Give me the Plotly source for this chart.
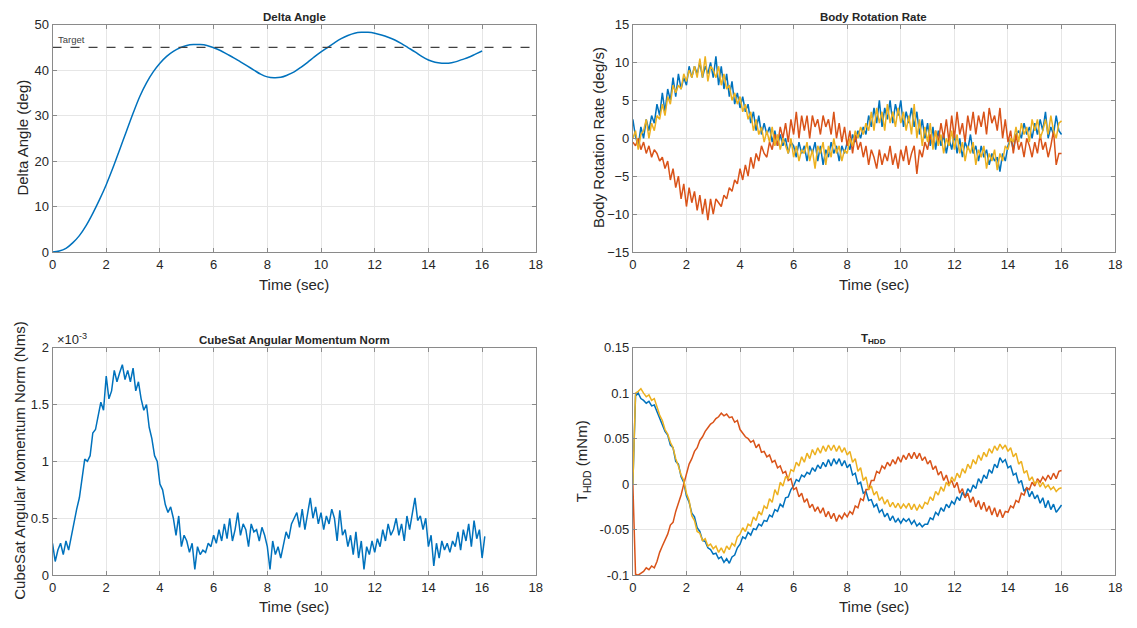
import plotly.graph_objects as go

# ---------------- data ----------------
t_angle = [round(i * 0.25, 2) for i in range(65)]
delta_angle = [0, 0.2, 0.8, 2.0, 3.6, 5.8, 8.5, 11.5, 14.8, 18.5, 22.5, 26.5, 30.5, 34.2, 37.2, 39.6,
               41.5, 43.0, 44.1, 44.9, 45.4, 45.6, 45.6, 45.4, 44.9, 44.3, 43.5, 42.7, 41.8, 40.9,
               40.0, 39.1, 38.5, 38.3, 38.4, 38.9, 39.6, 40.6, 41.7, 42.9, 44.0, 45.0, 46.0, 46.9,
               47.6, 48.1, 48.3, 48.3, 48.1, 47.7, 47.2, 46.6, 45.8, 44.9, 44.0, 43.0, 42.2, 41.7,
               41.5, 41.5, 41.8, 42.3, 42.8, 43.5, 44.2]
target_value = 45

t_rate = [round(i * 0.1, 1) for i in range(161)]
rate_blue = [
    2.5, 0.2, -1.0, 1.5, 0.0, 2.5, 1.0, 3.0, 2.0, 4.5,
    3.0, 6.0, 3.5, 6.5, 5.0, 8.0, 5.5, 8.5, 6.5, 8.0,
    7.0, 9.5, 8.0, 9.5, 8.5, 10.0, 8.0, 9.5, 8.5, 10.0,
    8.0, 10.8, 7.0, 9.5, 6.5, 8.5, 5.5, 7.5, 4.5, 6.0,
    4.0, 5.5, 3.5, 4.5, 2.0, 3.5, 1.0, 3.0, 0.5, 2.0,
    0.5, 1.5, -0.5, 1.0, -1.0, 0.5, -1.0, 0.0, -2.0, -0.5,
    -1.0, -2.5, -0.5, -2.0, -1.0, -3.0, -1.0, -2.0, -0.5, -3.0,
    -1.0, -3.5, -1.5, -2.5, -0.5, -2.0, -1.0, -3.0, -1.0, -2.0,
    -0.5, -1.5, 0.5, -0.5, 1.0, 0.0, 1.5, 0.5, 3.0, 1.5,
    4.0, 2.0, 5.0, 1.5, 4.0, 2.5, 5.0, 2.0, 4.5, 3.0,
    5.0, 1.5, 3.5, 2.0, 4.0, 1.5, 3.5, 0.5, 2.5, 0.0,
    2.0, -1.0, 1.5, -1.5, 1.0, -1.0, 0.5, -2.0, 0.0, -1.5,
    0.5, -2.0, 0.0, -2.5, -0.5, -1.5, 0.5, -2.0, -1.0, -3.0,
    -1.0, -2.5, -1.5, -3.5, -2.0, -3.0, -2.5, -4.4, -2.0, -3.0,
    -1.0, 0.0, -1.5, 0.5, 1.0, 0.0, 2.0, 0.5, 1.5, 0.0,
    2.0, 0.5, 2.5, 1.0, 3.5, 0.0, 1.5, 0.5, 3.0, 1.0,
    0.5]
rate_orange = [
    -0.5, -1.0, 0.0, -1.5, -0.5, -2.0, -1.0, -2.5, -1.5, -2.0,
    -3.0, -2.5, -4.0, -3.0, -5.5, -4.0, -6.5, -5.0, -8.0, -6.0,
    -9.0, -6.5, -8.5, -7.0, -9.5, -7.5, -10.0, -8.0, -10.8, -8.0,
    -10.0, -8.0, -8.5, -9.0, -7.5, -8.0, -6.5, -7.0, -5.5, -6.0,
    -4.0, -5.5, -3.5, -5.0, -2.5, -4.0, -2.0, -3.0, -1.0, -2.0,
    -2.5, -0.5, -1.5, 0.5, -1.0, 1.5, 0.0, 2.0, -0.5, 2.5,
    0.5, 3.5, 0.0, 3.0, 1.0, 3.0, 0.0, 3.0, 1.5, 2.5,
    0.5, 3.0, 1.5, 2.5, 0.5, 3.5, 0.0, 2.0, -0.5, 1.5,
    -1.0, 1.0, -2.0, 0.5, -1.5, -0.5, -2.5, -1.0, -3.5, -1.5,
    -2.5, -4.0, -1.5, -3.5, -2.0, -3.0, -1.0, -3.5, -2.0, -4.0,
    -1.5, -3.0, -1.0, -3.5, -2.0, -1.0, -4.7, -1.5, -2.5, -0.5,
    -1.5, 0.5, -1.0, 1.0, -0.5, 2.0, 0.0, 2.5, -0.5, 3.0,
    0.0, 3.5, 0.5, 2.0, -0.5, 3.0, 1.0, 3.5, 0.5, 3.0,
    1.5, 3.5, 0.5, 4.0, 2.0, 3.0, 1.0, 4.0, 0.0, 2.5,
    -0.5, 1.0, -2.0, 0.5, -1.5, -0.5, -2.5, 0.0, -1.0, -2.5,
    -0.5, -2.0, 0.5, -1.5, -0.5, -2.5, -1.0, 1.0, -3.5, -2.0,
    -2.0]
rate_yellow = [
    0.0, 1.0, -1.5, 0.5, 1.0, 2.5, 0.0, 2.0, 1.0, 3.0,
    2.5, 4.5, 3.0, 5.5, 4.5, 7.0, 6.0, 7.0, 6.5, 8.5,
    7.5, 9.0, 8.0, 9.5, 8.0, 10.5, 8.0, 10.8, 7.5, 9.5,
    9.0, 8.0, 9.5, 7.0, 8.5, 6.5, 7.0, 5.0, 6.0, 4.5,
    5.5, 3.5, 4.5, 2.5, 3.5, 1.0, 2.5, 0.5, 1.5, -0.5,
    1.0, -0.5, 1.5, -1.0, 0.5, -1.5, 0.0, -1.0, -2.0, 0.0,
    -2.5, -1.0, -3.0, -1.5, -2.0, -0.5, -3.0, -1.5, -4.0, -1.0,
    -2.0, -0.5, -3.5, -1.0, -2.5, 0.0, -2.0, -1.0, -3.0, -1.5,
    -2.0, 0.0, -1.0, 1.0, 0.0, 1.5, 0.5, 2.0, 1.0, 3.5,
    1.0, 4.0, 2.0, 3.5, 1.0, 4.5, 2.0, 3.5, 1.5, 4.0,
    2.0, 3.5, 1.0, 3.0, 0.5, 4.5, 0.0, 2.5, -1.0, 1.5,
    -0.5, 2.0, -1.5, 1.0, -1.0, 0.5, -2.0, 0.0, -1.0, 1.0,
    -1.5, 0.5, -2.0, -0.5, -3.0, -1.0, -2.0, -0.5, -3.5, -1.5,
    -2.5, -1.0, -4.0, -2.0, -3.0, -1.5, -4.2, -2.0, -3.0, -1.0,
    -1.5, 0.0, -0.5, 1.5, -0.5, 2.0, 0.5, 1.5, -0.5, 2.5,
    1.0, 2.5, 0.0, 1.0, 2.5, 0.5, 3.0, 1.0, 0.0, 2.0,
    2.3]

t_mom = [round(i * 0.1, 1) for i in range(162)]
momentum_e3 = [
    0.28, 0.12, 0.22, 0.28, 0.18, 0.30, 0.22, 0.35, 0.45, 0.58,
    0.68, 0.85, 1.02, 1.00, 1.05, 1.25, 1.28, 1.40, 1.52, 1.45,
    1.75, 1.55, 1.62, 1.80, 1.70, 1.78, 1.85, 1.72, 1.80, 1.70,
    1.82, 1.62, 1.70, 1.55, 1.45, 1.50, 1.30, 1.20, 1.05, 1.00,
    0.80, 0.75, 0.62, 0.55, 0.60, 0.50, 0.35, 0.52, 0.25, 0.35,
    0.30, 0.20, 0.28, 0.05, 0.25, 0.18, 0.22, 0.20, 0.28, 0.25,
    0.35, 0.28, 0.40, 0.30, 0.45, 0.32, 0.50, 0.30, 0.40, 0.55,
    0.35, 0.45, 0.40, 0.25, 0.45, 0.38, 0.40, 0.30, 0.42, 0.35,
    0.25, 0.05, 0.30, 0.18, 0.25, 0.15, 0.28, 0.38, 0.32, 0.45,
    0.50, 0.55, 0.42, 0.58, 0.40, 0.55, 0.68, 0.50, 0.60, 0.45,
    0.55, 0.40, 0.52, 0.45, 0.58, 0.50, 0.30, 0.57, 0.35, 0.40,
    0.25, 0.35, 0.18, 0.38, 0.15, 0.30, 0.05, 0.25, 0.18, 0.30,
    0.20, 0.32, 0.25, 0.40, 0.30, 0.45, 0.35, 0.40, 0.50, 0.35,
    0.45, 0.30, 0.52, 0.40, 0.55, 0.68, 0.48, 0.52, 0.40, 0.50,
    0.25, 0.35, 0.08, 0.28, 0.15, 0.30, 0.22, 0.28, 0.20, 0.30,
    0.25, 0.38, 0.22, 0.40, 0.30, 0.45, 0.25, 0.48, 0.32, 0.40,
    0.15, 0.34]
momentum = [v * 1e-3 for v in momentum_e3]

t_hdd = [round(i * 0.1, 1) for i in range(161)]
hdd_blue = [
    0.000, 0.097, 0.100, 0.094, 0.092, 0.089, 0.091, 0.086, 0.087, 0.080,
    0.072, 0.066, 0.058, 0.054, 0.043, 0.040, 0.025, 0.022, 0.008, 0.002,
    -0.013, -0.020, -0.032, -0.036, -0.048, -0.052, -0.062, -0.063, -0.070, -0.072,
    -0.077, -0.076, -0.082, -0.080, -0.086, -0.082, -0.087, -0.080, -0.078, -0.070,
    -0.066, -0.058, -0.060, -0.053, -0.056, -0.049, -0.050, -0.044, -0.046, -0.040,
    -0.041, -0.034, -0.036, -0.028, -0.030, -0.022, -0.025, -0.015, -0.014, -0.006,
    -0.002, 0.005, 0.003, 0.010, 0.008, 0.013, 0.011, 0.018, 0.014, 0.021,
    0.017, 0.024, 0.019, 0.027, 0.020, 0.028, 0.022, 0.028, 0.020, 0.026,
    0.018, 0.022, 0.010, 0.012, 0.000, 0.002, -0.010, -0.008, -0.018, -0.017,
    -0.025, -0.022, -0.031, -0.028, -0.036, -0.032, -0.040, -0.035, -0.042, -0.038,
    -0.043, -0.038, -0.041, -0.038, -0.044, -0.040, -0.046, -0.043, -0.047, -0.044,
    -0.044, -0.037, -0.039, -0.031, -0.034, -0.026, -0.030, -0.022, -0.026, -0.019,
    -0.022, -0.014, -0.018, -0.009, -0.014, -0.005, -0.009, -0.001, -0.005, 0.006,
    0.001, 0.010, 0.006, 0.016, 0.012, 0.022, 0.018, 0.029, 0.024, 0.027,
    0.018, 0.020, 0.010, 0.012, 0.001, 0.004, -0.008, -0.004, -0.014, -0.008,
    -0.016, -0.012, -0.021, -0.015, -0.026, -0.018, -0.028, -0.022, -0.031, -0.027,
    -0.023]
hdd_orange = [
    0.000, -0.099, -0.100, -0.098, -0.096, -0.092, -0.094, -0.090, -0.092, -0.085,
    -0.075, -0.068, -0.062, -0.055, -0.045, -0.042, -0.030, -0.022, -0.012, 0.000,
    0.012, 0.022, 0.028, 0.036, 0.040, 0.048, 0.052, 0.058, 0.062, 0.066,
    0.068, 0.072, 0.074, 0.078, 0.075, 0.077, 0.073, 0.074, 0.068, 0.070,
    0.060, 0.056, 0.052, 0.050, 0.046, 0.048, 0.040, 0.044, 0.035, 0.036,
    0.030, 0.032, 0.024, 0.026, 0.018, 0.020, 0.012, 0.014, 0.004, 0.006,
    -0.006, -0.004, -0.014, -0.010, -0.020, -0.016, -0.026, -0.022, -0.030, -0.025,
    -0.032, -0.026, -0.036, -0.030, -0.038, -0.032, -0.041, -0.034, -0.038, -0.032,
    -0.036, -0.030, -0.033, -0.024, -0.026, -0.016, -0.018, -0.006, -0.006, 0.004,
    0.004, 0.014, 0.012, 0.020, 0.017, 0.024, 0.020, 0.027, 0.022, 0.030,
    0.024, 0.032, 0.027, 0.034, 0.028, 0.035, 0.028, 0.034, 0.026, 0.030,
    0.022, 0.026, 0.016, 0.020, 0.010, 0.014, 0.004, 0.010, 0.000, 0.004,
    -0.004, 0.002, -0.010, -0.005, -0.015, -0.010, -0.020, -0.014, -0.025, -0.018,
    -0.028, -0.020, -0.030, -0.024, -0.034, -0.026, -0.036, -0.028, -0.037, -0.030,
    -0.031, -0.024, -0.026, -0.018, -0.020, -0.010, -0.012, -0.004, -0.006, 0.002,
    -0.002, 0.006, 0.002, 0.008, 0.004, 0.010, 0.005, 0.012, 0.006, 0.014,
    0.015]
hdd_yellow = [
    0.000, 0.100, 0.102, 0.105, 0.100, 0.096, 0.098, 0.092, 0.094, 0.085,
    0.076, 0.070, 0.060, 0.055, 0.046, 0.040, 0.028, 0.020, 0.010, 0.004,
    -0.010, -0.018, -0.035, -0.040, -0.052, -0.054, -0.062, -0.060, -0.068, -0.066,
    -0.071, -0.068, -0.075, -0.070, -0.076, -0.068, -0.072, -0.065, -0.068, -0.058,
    -0.055, -0.048, -0.052, -0.044, -0.046, -0.036, -0.040, -0.030, -0.034, -0.024,
    -0.027, -0.016, -0.020, -0.006, -0.012, 0.002, -0.002, 0.008, 0.006, 0.016,
    0.014, 0.024, 0.020, 0.030, 0.024, 0.034, 0.028, 0.038, 0.032, 0.040,
    0.034, 0.042, 0.036, 0.043, 0.037, 0.043, 0.036, 0.042, 0.035, 0.040,
    0.032, 0.036, 0.024, 0.028, 0.014, 0.018, 0.004, 0.008, -0.006, -0.002,
    -0.012, -0.008, -0.018, -0.014, -0.022, -0.017, -0.025, -0.020, -0.026, -0.021,
    -0.027, -0.022, -0.026, -0.021, -0.028, -0.022, -0.029, -0.023, -0.027, -0.020,
    -0.022, -0.014, -0.018, -0.008, -0.012, -0.003, -0.008, 0.002, -0.002, 0.008,
    0.003, 0.012, 0.007, 0.017, 0.012, 0.022, 0.017, 0.027, 0.022, 0.032,
    0.026, 0.035, 0.030, 0.039, 0.034, 0.042, 0.037, 0.044, 0.039, 0.043,
    0.036, 0.040, 0.030, 0.034, 0.022, 0.025, 0.012, 0.015, 0.004, 0.008,
    0.000, 0.004, -0.003, 0.002, -0.004, -0.001, -0.006, -0.003, -0.008, -0.005,
    -0.004]

x_ticks = [0, 2, 4, 6, 8, 10, 12, 14, 16, 18]

# ---------------- styling ----------------
BLUE, ORANGE, YELLOW = "#0072BD", "#D95319", "#EDB120"
FONT = "Liberation Sans, Arial, Helvetica, sans-serif"
TXT = "#262626"
W, H = 1137, 628

xd_l = [49 / W, 537 / W]
xd_r = [635 / W, 1122 / W]
yd_t = [1 - 251 / H, 1 - 18 / H]
yd_b = [1 - 582 / H, 1 - 349 / H]

fig = go.Figure()
lw = 1.5
fig.add_trace(go.Scatter(x=t_angle, y=delta_angle, mode="lines", line=dict(color=BLUE, width=lw, shape="spline"),
                         xaxis="x", yaxis="y"))
fig.add_trace(go.Scatter(x=[0, 18], y=[target_value, target_value], mode="lines",
                         line=dict(color="#404040", width=1.2, dash="dash"), xaxis="x", yaxis="y"))
for ys, c in [(rate_blue, BLUE), (rate_orange, ORANGE), (rate_yellow, YELLOW)]:
    fig.add_trace(go.Scatter(x=t_rate, y=ys, mode="lines", line=dict(color=c, width=lw), xaxis="x2", yaxis="y2"))
fig.add_trace(go.Scatter(x=t_mom, y=momentum, mode="lines", line=dict(color=BLUE, width=lw), xaxis="x3", yaxis="y3"))
for ys, c in [(hdd_blue, BLUE), (hdd_orange, ORANGE), (hdd_yellow, YELLOW)]:
    fig.add_trace(go.Scatter(x=t_hdd, y=ys, mode="lines", line=dict(color=c, width=lw), xaxis="x4", yaxis="y4"))


def axis(domain, anchor, rng, tickvals, ticktext=None):
    d = dict(domain=domain, anchor=anchor, range=rng, tickvals=tickvals,
             showline=True, mirror="ticks", linecolor="#8a8a8a", linewidth=1,
             ticks="inside", ticklen=4, tickcolor="#8a8a8a",
             showgrid=True, gridcolor="#e6e6e6", gridwidth=1, zeroline=False,
             tickfont=dict(family=FONT, size=13, color=TXT))
    if ticktext is not None:
        d["ticktext"] = ticktext
    return d


fig.update_layout(
    width=W, height=H, margin=dict(l=0, r=0, t=0, b=0),
    paper_bgcolor="white", plot_bgcolor="white", showlegend=False,
    xaxis=axis(xd_l, "y", [0, 18], x_ticks),
    yaxis=axis(yd_t, "x", [0, 50], [0, 10, 20, 30, 40, 50]),
    xaxis2=axis(xd_r, "y2", [0, 18], x_ticks),
    yaxis2=axis(yd_t, "x2", [-15, 15], [-15, -10, -5, 0, 5, 10, 15]),
    xaxis3=axis(xd_l, "y3", [0, 18], x_ticks),
    yaxis3=axis(yd_b, "x3", [0, 0.002], [0, 0.0005, 0.001, 0.0015, 0.002],
                ["0", "0.5", "1", "1.5", "2"]),
    xaxis4=axis(xd_r, "y4", [0, 18], x_ticks),
    yaxis4=axis(yd_b, "x4", [-0.1, 0.15], [-0.1, -0.05, 0, 0.05, 0.1, 0.15],
                ["-0.1", "-0.05", "0", "0.05", "0.1", "0.15"]),
)

ann = []


def txt(x, y, text, size, bold=False, angle=0, xanchor="center", color=TXT):
    ann.append(dict(x=x / W, y=1 - y / H, xref="paper", yref="paper", text=f"<b>{text}</b>" if bold else text,
                    showarrow=False, textangle=angle, xanchor=xanchor, yanchor="middle",
                    font=dict(family=FONT, size=size, color=color)))


# titles
txt(293, 10, "Delta Angle", 11.5, bold=True)
txt(878, 10, "Body Rotation Rate", 11.5, bold=True)
txt(293, 341, "CubeSat Angular Momentum Norm", 11.5, bold=True)
txt(878, 340, "T<sub>HDD</sub>", 11.5, bold=True)
# x labels
for cx, cy in [(293, 284), (878, 284), (293, 614), (878, 614)]:
    txt(cx, cy, "Time (sec)", 15)
# y labels
txt(19, 134, "Delta Angle (deg)", 15, angle=-90)
txt(601, 134, "Body Rotation Rate (deg/s)", 15, angle=-90)
txt(16, 465, "CubeSat Angular Momentum Norm (Nms)", 15, angle=-90)
txt(585, 465, "T<sub>HDD</sub> (mNm)", 15, angle=-90)
# exponent and target label
txt(51, 340, "×10<sup>-3</sup>", 13, xanchor="left")
txt(53, 33, "Target", 9.5, xanchor="left", color="#404040")
fig.update_layout(annotations=ann)

fig.write_html("out.html")
